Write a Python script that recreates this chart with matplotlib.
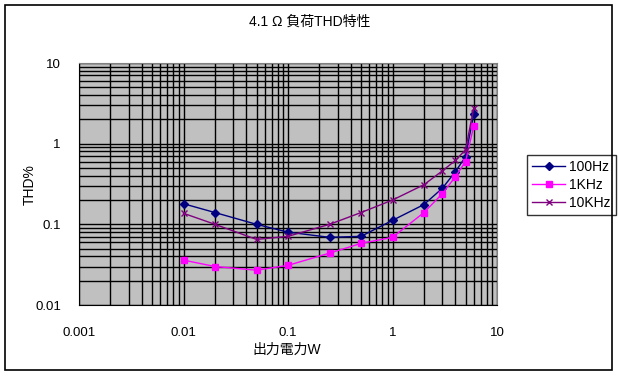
import matplotlib
matplotlib.use("Agg")
import matplotlib.pyplot as plt
from matplotlib.ticker import LogLocator, FixedLocator, FixedFormatter, NullFormatter
from matplotlib.patches import Rectangle

plt.rcParams['font.family'] = ['Liberation Sans', 'Noto Sans CJK JP', 'DejaVu Sans']

power = [0.01, 0.02, 0.05, 0.1, 0.25, 0.5, 1, 2, 3, 4, 5, 6]
thd_100hz = [0.18, 0.14, 0.10, 0.080, 0.069, 0.071, 0.112, 0.176, 0.28, 0.45, 0.69, 2.35]
thd_1khz = [0.036, 0.030, 0.027, 0.031, 0.044, 0.058, 0.069, 0.14, 0.24, 0.39, 0.60, 1.67]
thd_10khz = [0.137, 0.10, 0.065, 0.071, 0.10, 0.14, 0.20, 0.31, 0.46, 0.62, 0.84, 2.8]
series_names = ['100Hz', '1KHz', '10KHz']
x_ticks = [0.001, 0.01, 0.1, 1, 10]
x_ticklabels = ['0.001', '0.01', '0.1', '1', '10']
y_ticks = [0.01, 0.1, 1, 10]
y_ticklabels = ['0.01', '0.1', '1', '10']
title = '4.1 Ω 負荷THD特性'
xlabel = '出力電力W'
ylabel = 'THD%'

W, H = 619, 376
fig = plt.figure(figsize=(W / 100, H / 100), dpi=100)
fig.patch.set_facecolor('white')

# outer border
fig.patches.append(Rectangle((5 / W, 1 - 370 / H), (612 - 5) / W, (370 - 5) / H,
                             transform=fig.transFigure, fill=False, edgecolor='black', lw=1.2))

left, right, top, bottom = 79, 497, 63, 305
ax = fig.add_axes([left / W, 1 - bottom / H, (right - left) / W, (bottom - top) / H])
ax.set_facecolor('#C0C0C0')
ax.set_xscale('log')
ax.set_yscale('log')
ax.set_xlim(0.001, 10)
ax.set_ylim(0.01, 10)

ax.xaxis.set_major_locator(FixedLocator(x_ticks))
ax.xaxis.set_major_formatter(FixedFormatter(x_ticklabels))
ax.yaxis.set_major_locator(FixedLocator(y_ticks))
ax.yaxis.set_major_formatter(FixedFormatter(y_ticklabels))
ax.xaxis.set_minor_locator(LogLocator(base=10, subs=range(2, 10)))
ax.yaxis.set_minor_locator(LogLocator(base=10, subs=range(2, 10)))
ax.xaxis.set_minor_formatter(NullFormatter())
ax.yaxis.set_minor_formatter(NullFormatter())
ax.grid(True, which='both', color='black', lw=1.0)
ax.set_axisbelow(True)
ax.tick_params(which='both', length=0, labelsize=9.5)
ax.tick_params(axis='x', pad=16)
ax.tick_params(axis='y', pad=13)

for s in ['top', 'right']:
    ax.spines[s].set_color('#808080')
for s in ['left', 'bottom']:
    ax.spines[s].set_color('black')

ax.plot(power, thd_100hz, color='#000080', marker='D', ms=4, lw=1, label=series_names[0])
ax.plot(power, thd_1khz, color='#FF00FF', marker='s', ms=5, lw=1, label=series_names[1])
ax.plot(power, thd_10khz, color='#800080', marker='x', ms=5, mew=1, lw=1, label=series_names[2])

leg = ax.legend(loc='center left', bbox_to_anchor=((527 - left) / (right - left), (bottom - 185) / (bottom - top)),
                frameon=True, fancybox=False, edgecolor='black', facecolor='white',
                fontsize=10, handlelength=2.4, borderpad=0.35, labelspacing=0.3, handletextpad=0.3,
                borderaxespad=0)
leg.get_frame().set_linewidth(1.0)

fig.text(310 / W, 1 - 22 / H, title, ha='center', va='center', fontsize=10)
fig.text(287 / W, 1 - 350 / H, xlabel, ha='center', va='center', fontsize=10)
fig.text(30 / W, 1 - 185 / H, ylabel, ha='center', va='center', fontsize=10, rotation=90)

fig.savefig('out.png', dpi=100)
